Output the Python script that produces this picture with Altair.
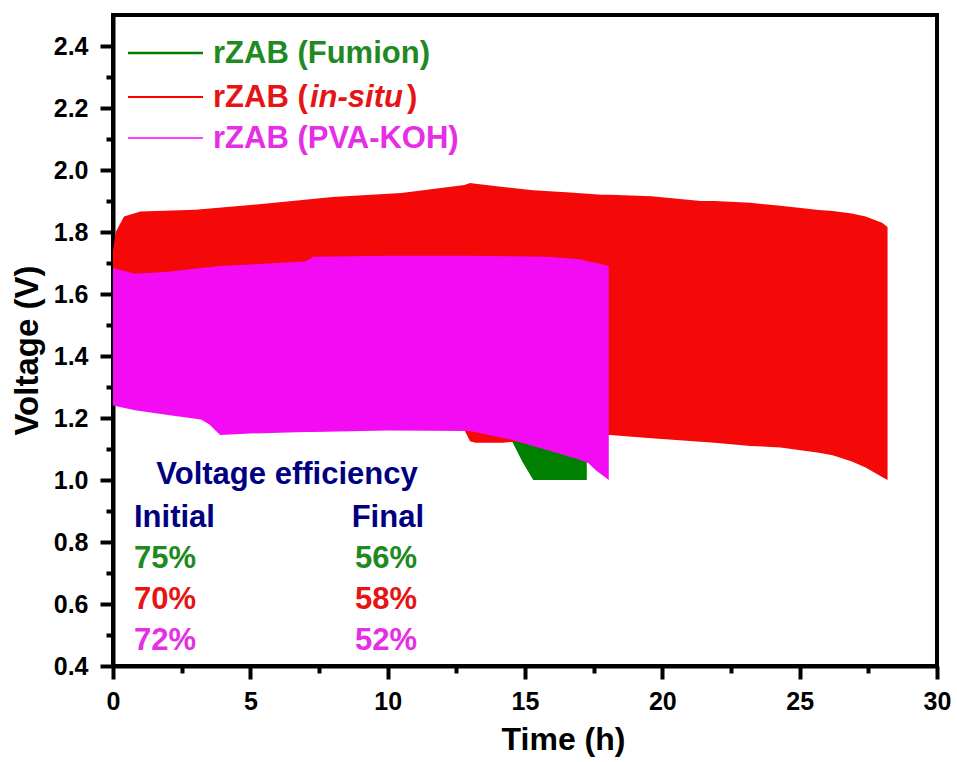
import altair as alt
import pandas as pd

# ---------------- data (envelopes of the cycling curves) ----------------
# rZAB (in-situ)  -- red
red_t  = [0.0, 0.1, 0.4, 1.0, 3.0, 5.0, 8.0, 10.5, 12.8, 13.0, 13.2, 14.2, 15.3, 16.5, 17.8, 18.1,
          19.6, 21.4, 21.9, 23.2, 24.3, 25.7, 26.2, 26.9, 27.4, 28.0, 28.2]
red_hi = [1.74, 1.80, 1.85, 1.866, 1.872, 1.887, 1.913, 1.926, 1.952, 1.958, 1.956, 1.945, 1.935, 1.928, 1.92, 1.92,
          1.915, 1.90, 1.90, 1.894, 1.885, 1.871, 1.868, 1.86, 1.85, 1.83, 1.816]
red_lo = [1.25, 1.24, 1.235, 1.23, 1.21, 1.19, 1.175, 1.165, 1.16, 1.125, 1.12, 1.12, 1.13, 1.14, 1.145, 1.145,
          1.135, 1.123, 1.12, 1.11, 1.105, 1.088, 1.08, 1.06, 1.04, 1.01, 1.0]

# rZAB (PVA-KOH)  -- magenta
pink_t  = [0.0, 0.8, 2.0, 3.2, 3.5, 3.9, 5.0, 7.0, 7.3, 10.0, 13.0, 14.5, 15.8, 17.0, 17.3, 17.6, 18.05]
pink_hi = [1.684, 1.665, 1.672, 1.684, 1.686, 1.69, 1.695, 1.705, 1.72, 1.723, 1.723, 1.722, 1.72, 1.712, 1.705, 1.70, 1.69]
pink_lo = [1.24, 1.225, 1.21, 1.195, 1.18, 1.145, 1.15, 1.155, 1.155, 1.16, 1.158, 1.13, 1.097, 1.065, 1.055, 1.03, 1.0]

# rZAB (Fumion)  -- green
green_t  = [0.0, 4.0, 10.0, 13.0, 14.0, 14.5, 14.9, 15.3, 17.25]
green_hi = [1.70, 1.75, 1.80, 1.83, 1.84, 1.85, 1.86, 1.86, 1.88]
green_lo = [1.26, 1.20, 1.17, 1.16, 1.145, 1.13, 1.06, 1.0, 1.0]

series_names = ["rZAB (Fumion)", "rZAB (in-situ)", "rZAB (PVA-KOH)"]
eff_initial = ["75%", "70%", "72%"]
eff_final = ["56%", "58%", "52%"]

y_ticks = [0.4, 0.5, 0.6, 0.7, 0.8, 0.9, 1.0, 1.1, 1.2, 1.3, 1.4, 1.5, 1.6, 1.7, 1.8, 1.9, 2.0, 2.1, 2.2, 2.3, 2.4]
x_ticks = [0, 2.5, 5, 7.5, 10, 12.5, 15, 17.5, 20, 22.5, 25, 27.5, 30]

# ---------------- styling ----------------
FONT = "Liberation Sans"
C_GREEN, C_RED, C_PINK = "#008000", "#FF0000", "#FF00FF"
T_GREEN, T_RED, T_PINK, T_NAVY = "#1f8a1f", "#e51515", "#e52ee5", "#000080"

xs = alt.Scale(domain=[0, 30], nice=False, zero=False)
ys = alt.Scale(domain=[0.4, 2.5], nice=False, zero=False)

x_axis = alt.Axis(
    values=x_ticks, title="Time (h)",
    labelExpr="datum.value % 5 == 0 ? format(datum.value, 'd') : ''",
    labelFont=FONT, labelFontSize=25, labelFontWeight="bold", labelColor="black",
    labelPadding=10, labelOverlap=False, labelFlush=False,
    tickSize={"condition": {"test": "datum.value % 5 == 0", "value": 13}, "value": 7},
    tickWidth=4, tickColor="black", domainWidth=4, domainColor="black", grid=False,
    titleFont=FONT, titleFontSize=32, titleFontWeight="bold", titleColor="black",
    titleX=450, titleY=83, titleBaseline="alphabetic", titleAlign="center",
)
y_axis = alt.Axis(
    values=y_ticks, title="Voltage (V)",
    labelExpr="round(datum.value * 10) % 2 == 0 ? format(datum.value, '.1f') : ''",
    labelFont=FONT, labelFontSize=25, labelFontWeight="bold", labelColor="black",
    labelPadding=12, labelOverlap=False, labelFlush=False,
    tickSize={"condition": {"test": "round(datum.value * 10) % 2 == 0", "value": 13}, "value": 7},
    tickWidth=4, tickColor="black", domainWidth=4, domainColor="black", grid=False,
    titleFont=FONT, titleFontSize=33, titleFontWeight="bold", titleColor="black",
    titleX=-76, titleY=335, titleAngle=-90, titleBaseline="alphabetic", titleAlign="center",
)

def band(t, hi, lo, color):
    df = pd.DataFrame({"t": t, "hi": hi, "lo": lo})
    return alt.Chart(df).mark_area(color=color, opacity=1, interpolate="linear").encode(
        x=alt.X("t:Q", scale=xs, axis=x_axis),
        y=alt.Y("hi:Q", scale=ys, axis=y_axis),
        y2="lo:Q",
    )

green = band(green_t, green_hi, green_lo, "#008000")
red = band(red_t, red_hi, red_lo, "#F40808")
pink = band(pink_t, pink_hi, pink_lo, "#F30CF3")

one = pd.DataFrame({"a": [0]})

def txt(s, x, y, color, size=31, align="left", style="normal"):
    return alt.Chart(one).mark_text(
        text=s, font=FONT, fontSize=size, fontWeight="bold", fontStyle=style,
        color=color, align=align, baseline="alphabetic",
    ).encode(x=alt.value(x), y=alt.value(y))

def lline(y, color, w):
    return alt.Chart(one).mark_rule(color=color, strokeWidth=w).encode(
        x=alt.value(15), x2=alt.value(90), y=alt.value(y))

legend = [
    lline(38, C_GREEN, 2.5), txt(series_names[0], 100, 48, T_GREEN),
    lline(82, C_RED, 2), txt("rZAB (", 100, 92, T_RED),
    txt("in-situ", 197, 92, T_RED, style="italic"), txt(")", 294, 92, T_RED),
    lline(123, C_PINK, 1.5), txt(series_names[2], 100, 133, T_PINK),
]

rows_y = [553, 594, 635]
row_cols = [T_GREEN, T_RED, T_PINK]
notes = [
    txt("Voltage efficiency", 174, 469, T_NAVY, align="center"),
    txt("Initial", 21, 512, T_NAVY),
    txt("Final", 311, 512, T_NAVY, align="right"),
]
for i in range(3):
    notes.append(txt(eff_initial[i], 21, rows_y[i], row_cols[i]))
    notes.append(txt(eff_final[i], 304, rows_y[i], row_cols[i], align="right"))

chart = alt.layer(green, red, pink, *legend, *notes).properties(
    width=824, height=651,
    autosize=alt.AutoSizeParams(type="none"),
    padding={"left": 113, "top": 15, "right": 20, "bottom": 96},
    background="white",
).configure_view(stroke="black", strokeWidth=4)

chart.save("out.html", embed_options={"renderer": "svg", "actions": False})
